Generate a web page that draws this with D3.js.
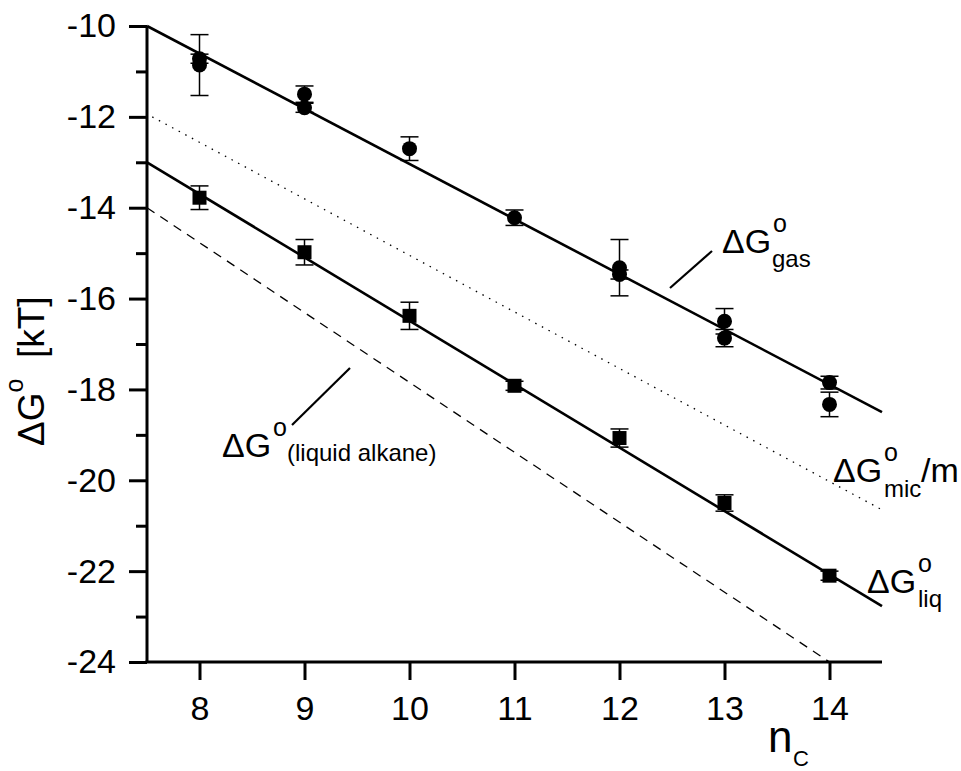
<!DOCTYPE html>
<html>
<head>
<meta charset="utf-8">
<script src="https://cdn.jsdelivr.net/npm/d3@7"></script>
<style>
	body { margin: 0; background: #fff; }
	svg text { font-family: "Liberation Sans", Arial, Helvetica, sans-serif; fill: #000; }
</style>
</head>
<body>
<div id="chart"></div>
<script>
// number of carbons and free energies
const gasN = [8, 8, 9, 9, 10, 11, 12, 12, 13, 13, 14, 14];
const gasG = [-10.72, -10.86, -11.5, -11.8, -12.7, -14.22, -15.32, -15.47, -16.5, -16.87, -17.85, -18.33];
const gasErr = [0.1, 0.67, 0.18, 0.1, 0.26, 0.17, 0.62, 0.1, 0.28, 0.19, 0.14, 0.27];

const liqN = [8, 9, 10, 11, 12, 13, 14];
const liqG = [-13.78, -14.98, -16.38, -17.92, -19.07, -20.5, -22.1];
const liqErr = [0.26, 0.28, 0.3, 0.1, 0.2, 0.18, 0.1];

// straight lines, [nC, dG] end points
const gasFit = [[7.5, -10], [14.5, -18.5]];
const micLine = [[7.55, -12], [14.5, -20.65]];
const liqFit = [[7.5, -13], [14.5, -22.77]];
const alkLine = [[7.5, -14], [14, -24]];

const xTicks = [8, 9, 10, 11, 12, 13, 14];
const yTicks = [-10, -12, -14, -16, -18, -20, -22, -24];
const yMinor = [-11, -13, -15, -17, -19, -21, -23];

const w = 961, h = 771;

const x = d3.scaleLinear().domain([7.5, 14.5]).range([147, 882]);
const y = d3.scaleLinear().domain([-10, -24]).range([26, 662]);

const svg = d3.select("#chart").append("svg")
	.attr("width", w)
	.attr("height", h);

// lines
const line = d3.line().x(d => x(d[0])).y(d => y(d[1]));

svg.append("path").datum(gasFit).attr("d", line)
	.attr("fill", "none").attr("stroke", "#000").attr("stroke-width", 2.6);
svg.append("path").datum(liqFit).attr("d", line)
	.attr("fill", "none").attr("stroke", "#000").attr("stroke-width", 2.6);
svg.append("path").datum(micLine).attr("d", line)
	.attr("fill", "none").attr("stroke", "#000").attr("stroke-width", 1.3)
	.attr("stroke-dasharray", "1.5,6");
svg.append("path").datum(alkLine).attr("d", line)
	.attr("fill", "none").attr("stroke", "#000").attr("stroke-width", 1.3)
	.attr("stroke-dasharray", "9,7");

// error bars
function errorBars(ns, gs, es) {
	const g = svg.append("g").attr("stroke", "#000").attr("stroke-width", 1.5);
	ns.forEach((n, i) => {
		const cx = x(n);
		const top = y(gs[i] + es[i]), bot = y(gs[i] - es[i]);
		g.append("line").attr("x1", cx).attr("x2", cx).attr("y1", top).attr("y2", bot);
		g.append("line").attr("x1", cx - 9).attr("x2", cx + 9).attr("y1", top).attr("y2", top);
		g.append("line").attr("x1", cx - 9).attr("x2", cx + 9).attr("y1", bot).attr("y2", bot);
	});
}
errorBars(gasN, gasG, gasErr);
errorBars(liqN, liqG, liqErr);

svg.append("g").selectAll("circle")
	.data(gasN.map((n, i) => [n, gasG[i]]))
	.enter().append("circle")
	.attr("cx", d => x(d[0]))
	.attr("cy", d => y(d[1]))
	.attr("r", 7.5)
	.attr("fill", "#000");

svg.append("g").selectAll("rect")
	.data(liqN.map((n, i) => [n, liqG[i]]))
	.enter().append("rect")
	.attr("x", d => x(d[0]) - 7)
	.attr("y", d => y(d[1]) - 7)
	.attr("width", 14)
	.attr("height", 14)
	.attr("fill", "#000");

// axes
const xAxis = d3.axisBottom(x).tickValues(xTicks).tickSize(18).tickPadding(16).tickFormat(d3.format("d"));
const yAxis = d3.axisLeft(y).tickValues(yTicks).tickSize(18).tickPadding(13).tickFormat(d => d);

const gx = svg.append("g").attr("transform", `translate(0, ${y(-24)})`).call(xAxis);
const gy = svg.append("g").attr("transform", `translate(${x(7.5)}, 0)`).call(yAxis);
const gyMinor = svg.append("g").attr("transform", `translate(${x(7.5)}, 0)`)
	.call(d3.axisLeft(y).tickValues(yMinor).tickSize(11).tickFormat(""));

[gx, gy, gyMinor].forEach(g => {
	g.select(".domain").remove();
	g.selectAll(".tick line").attr("stroke-width", 3);
	g.selectAll(".tick text").style("font-size", "34px").attr("fill", "#000");
});
svg.append("line").attr("x1", x(7.5) - 1.5).attr("x2", x(14.5)).attr("y1", y(-24)).attr("y2", y(-24))
	.attr("stroke", "#000").attr("stroke-width", 3);
svg.append("line").attr("x1", x(7.5)).attr("x2", x(7.5)).attr("y1", y(-10)).attr("y2", y(-24))
	.attr("stroke", "#000").attr("stroke-width", 3);

// axis titles
svg.append("text").attr("x", 768).attr("y", 752).style("font-size", "44px").text("n");
svg.append("text").attr("x", 793).attr("y", 766).style("font-size", "22px").text("C");

const yl = svg.append("text")
	.attr("transform", "translate(44, 446) rotate(-90)")
	.style("font-size", "37px");
yl.append("tspan").text("ΔG");
yl.append("tspan").attr("dy", -21).style("font-size", "25px").text("o");
yl.append("tspan").attr("dy", 21).text("\u00A0\u00A0[kT]");

// curve labels
function label(tx, ty, sub, subDx, subDy, after) {
	svg.append("text").attr("x", tx).attr("y", ty).style("font-size", "34px").text("ΔG");
	svg.append("text").attr("x", tx + 51).attr("y", ty - 21).style("font-size", "25px").text("o");
	svg.append("text").attr("x", tx + subDx).attr("y", ty + subDy).style("font-size", "24px").text(sub);
	if (after) svg.append("text").attr("x", after).attr("y", ty).style("font-size", "34px").text("/m");
}
label(722, 253, "gas", 50, 14);
label(833, 482, "mic", 51, 15, 921);
label(867, 593, "liq", 51, 14);
label(222, 457, "(liquid alkane)", 65, 4);

svg.append("line").attr("x1", 670).attr("y1", 288).attr("x2", 712).attr("y2", 251)
	.attr("stroke", "#000").attr("stroke-width", 2.2);
svg.append("line").attr("x1", 292).attr("y1", 425).attr("x2", 350).attr("y2", 368)
	.attr("stroke", "#000").attr("stroke-width", 2.2);
</script>
</body>
</html>
